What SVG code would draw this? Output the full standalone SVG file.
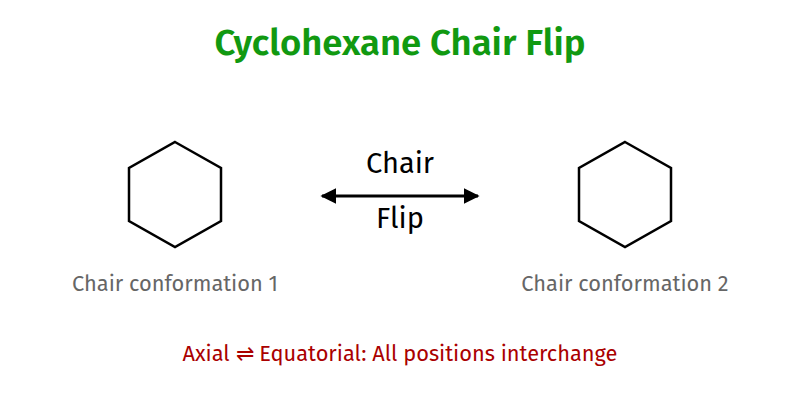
<svg xmlns="http://www.w3.org/2000/svg" width="800" height="400" viewBox="0 0 800 400">
<style>
text{font-family:"Fira Sans","Open Sans","Noto Sans",sans-serif;text-anchor:middle}
.hex{fill:none;stroke:#000;stroke-width:2.5}
.lbl{font-size:21.8px;fill:#666}
</style>
<defs>
<marker id="ah" viewBox="0 0 10 10" refX="9" refY="5" markerWidth="16" markerHeight="16" orient="auto-start-reverse" markerUnits="userSpaceOnUse"><path d="M0,0L10,5L0,10z" fill="#000"/></marker>
</defs>
<rect width="800" height="400" fill="#fff"/>
<text x="400" y="55" font-size="36.5" font-weight="600" fill="#119911">Cyclohexane Chair Flip</text>
<g id="chair1">
<polygon class="hex" points="175,142 221,168 221,221 175,247 129,221 129,168"/>
<text class="lbl" x="175" y="291">Chair conformation 1</text>
</g>
<g id="chair2">
<polygon class="hex" points="625,142 671,168 671,221 625,247 579,221 579,168"/>
<text class="lbl" x="625" y="291">Chair conformation 2</text>
</g>
<g id="connectors">
<line x1="322" y1="196" x2="478" y2="196" stroke="#000" stroke-width="3" marker-start="url(#ah)" marker-end="url(#ah)"/>
<text x="400" y="173" font-size="29">Chair</text>
<text x="400" y="228" font-size="29">Flip</text>
</g>
<text x="400" y="361" font-size="21.8" fill="#aa0000">Axial ⇌ Equatorial: All positions interchange</text>
</svg>
